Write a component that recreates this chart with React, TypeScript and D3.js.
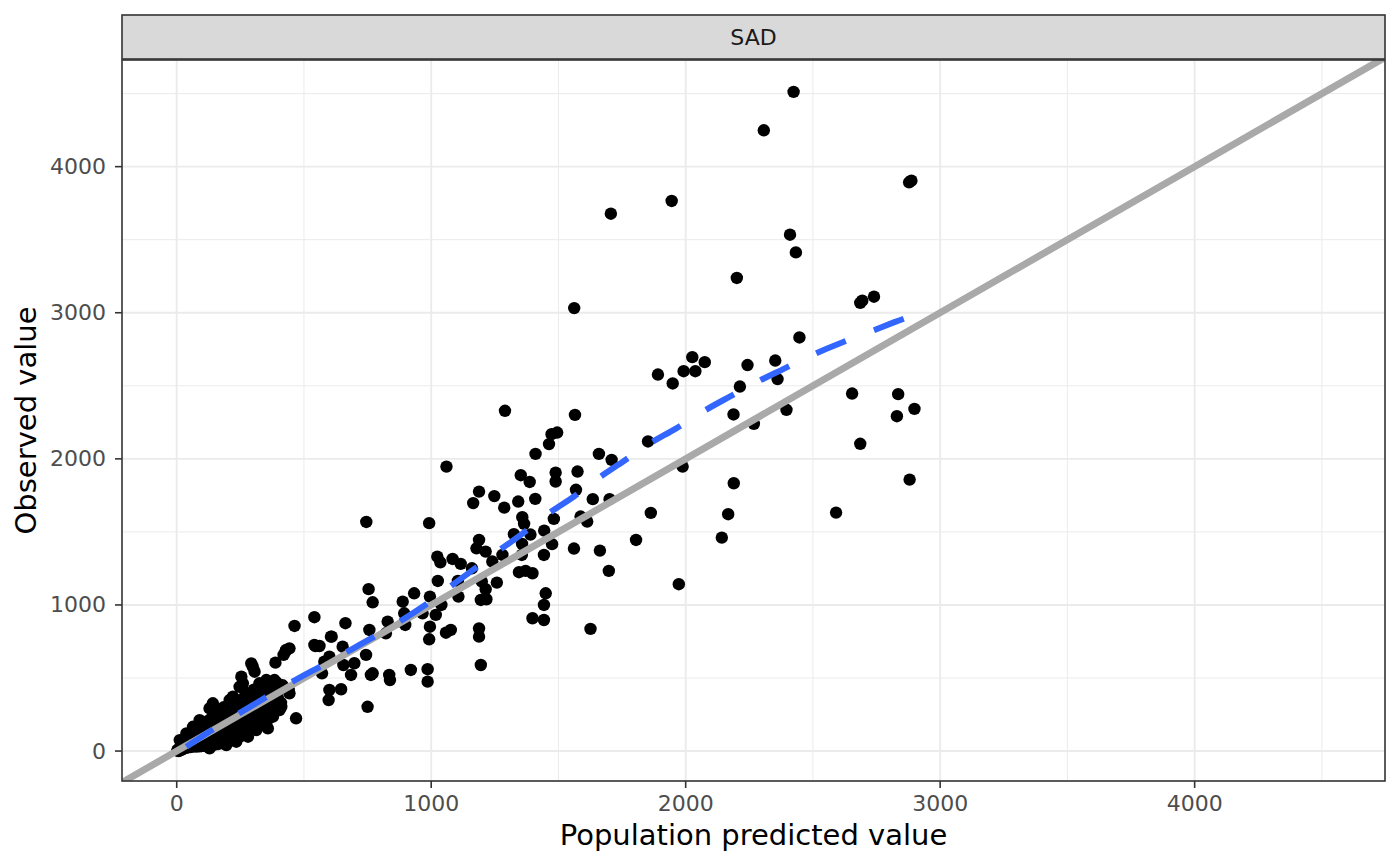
import React from "react";
import * as d3 from "d3";

// observed vs population predicted, one facet "SAD"
const stripLabel = "SAD";
const xTitle = "Population predicted value";
const yTitle = "Observed value";

const majorTicks = [0, 1000, 2000, 3000, 4000];
const minorTicks = [500, 1500, 2500, 3500, 4500];

// scattered points: [predicted, observed]
const outerPoints: [number, number][] = [
  [2424, 4512], [2307, 4249], [1945, 3765], [1706, 3678], [2878, 3893], [2887, 3904],
  [2410, 3534], [2433, 3413], [2201, 3238], [1562, 3032], [2686, 3068], [2694, 3083],
  [2740, 3110], [2447, 2831], [2026, 2696], [2075, 2662], [1992, 2600], [2038, 2600],
  [1891, 2577], [1949, 2516], [2243, 2642], [2352, 2673], [2361, 2546], [2213, 2495],
  [2188, 2304], [2396, 2336], [2268, 2240], [2654, 2447], [2835, 2443], [2899, 2342],
  [2830, 2292], [2686, 2103], [1852, 2119], [1659, 2034], [1709, 1993], [1988, 1947],
  [2189, 1833], [2880, 1858], [1863, 1630], [2167, 1621], [2591, 1632], [1701, 1724],
];

const midPoints: [number, number][] = [
  [1290, 2329], [1565, 2301], [1473, 2169], [1495, 2180], [1463, 2101], [1410, 2034],
  [1352, 1888], [1387, 1842], [1489, 1906], [1489, 1845], [1575, 1913], [1569, 1788],
  [1248, 1745], [1409, 1726], [1342, 1708], [1287, 1666], [1188, 1776], [1635, 1724],
  [1482, 1589], [1358, 1601], [1365, 1555], [1587, 1605], [1613, 1571], [1390, 1482],
  [1444, 1509], [1325, 1484], [1475, 1416], [1357, 1418], [1188, 1445], [1214, 1365],
  [1561, 1386], [1663, 1372], [1805, 1445], [2142, 1461], [1443, 1342], [1356, 1342],
  [1240, 1297], [1345, 1224], [1371, 1233], [1398, 1217], [1258, 1153], [1214, 1108],
  [1217, 1039], [1195, 1034], [1698, 1233], [1973, 1142], [1450, 1080], [1443, 1000],
  [1398, 909], [1443, 897], [1626, 836], [1188, 840], [1188, 783], [1195, 589],
  [1060, 1947], [1165, 1697], [992, 1560], [1178, 1388], [1280, 1342], [1024, 1331],
  [1036, 1292], [1084, 1315], [1116, 1281], [1160, 1251], [1026, 1164], [1105, 1164],
  [1199, 1160], [933, 1080], [888, 1023], [995, 1057], [1040, 1000], [1107, 1057],
  [1018, 932], [894, 875], [995, 851], [1058, 810], [1077, 829], [745, 1568],
];

const lowPoints: [number, number][] = [
  [754, 1108], [770, 1018], [966, 943], [894, 943], [898, 863], [829, 886], [822, 806],
  [757, 829], [663, 875], [609, 783], [652, 714], [744, 658], [698, 601], [655, 589],
  [600, 646], [561, 719], [571, 532], [685, 521], [763, 521], [770, 532], [835, 521],
  [838, 486], [920, 555], [986, 560], [986, 475], [600, 418], [597, 349], [646, 423],
  [750, 303], [992, 765], [541, 916], [463, 856], [388, 605], [427, 680], [443, 703],
  [299, 577], [306, 543], [254, 509], [260, 464], [469, 224], [358, 155], [411, 303],
  [545, 719], [606, 783], [440, 418], [443, 395], [430, 692], [420, 658], [541, 726],
  [580, 612], [293, 600], [247, 440], [352, 486], [365, 452], [384, 486], [325, 464],
  [391, 327], [142, 327], [156, 281], [129, 292], [208, 349], [221, 372], [90, 212],
  [64, 166], [38, 121], [12, 75],
];

// the dense blob near the origin
const clusterPoints: [number, number][] = [
  [2, 3], [5, 10], [8, 0], [10, 18], [14, 6], [18, 24], [20, 10], [24, 14], [26, 34],
  [30, 20], [33, 46], [36, 22], [40, 30], [42, 60], [45, 26], [48, 42], [52, 75],
  [55, 28], [58, 52], [62, 95], [65, 30], [68, 38], [70, 62], [74, 115], [78, 30],
  [80, 48], [84, 82], [86, 140], [90, 32], [92, 60], [95, 105], [98, 34], [102, 40],
  [105, 72], [108, 130], [110, 180], [114, 36], [116, 58], [120, 95], [124, 150],
  [126, 210], [130, 38], [133, 70], [136, 115], [140, 170], [142, 240], [146, 42],
  [148, 55], [152, 90], [155, 135], [158, 200], [162, 48], [165, 70], [168, 105],
  [170, 250], [172, 150], [176, 55], [180, 85], [182, 190], [185, 300], [188, 125],
  [192, 62], [195, 80], [198, 160], [200, 230], [203, 100], [206, 280], [210, 70],
  [213, 140], [216, 200], [218, 85], [222, 320], [225, 110], [228, 170], [232, 250],
  [235, 80], [238, 95], [240, 300], [243, 140], [246, 200], [250, 100], [252, 350],
  [255, 125], [258, 240], [262, 170], [265, 290], [268, 120], [270, 400], [273, 210],
  [276, 145], [278, 330], [282, 250], [285, 150], [288, 180], [290, 380], [294, 300],
  [297, 165], [300, 220], [303, 420], [306, 270], [310, 190], [314, 340], [318, 240],
  [322, 400], [326, 180], [330, 290], [334, 450], [338, 215], [342, 360], [346, 260],
  [350, 420], [355, 310], [360, 225], [364, 380], [368, 460], [372, 280], [378, 340],
  [382, 420], [388, 300], [392, 470], [398, 360], [404, 420], [410, 330], [416, 450],
  [129, 18], [195, 41], [234, 64], [280, 98], [313, 144], [352, 190], [378, 235], [404, 281],
];

// blue dashed smoother
const smoothX = [38, 149, 247, 353, 451, 561, 667, 776, 875, 980, 1071, 1176, 1267, 1365, 1456, 1567, 1652, 1757, 1855, 1962, 2064, 2171, 2280, 2384, 2495, 2600, 2718, 2826, 2899];
const smoothY = [30, 158, 260, 370, 473, 575, 678, 781, 884, 1000, 1123, 1253, 1377, 1491, 1628, 1742, 1868, 1982, 2108, 2203, 2324, 2423, 2529, 2614, 2712, 2788, 2865, 2941, 2985];

const identityLine = [-1000, 6000];

const W = 1400;
const H = 866;
const panel = { left: 122, right: 1385, top: 60, bottom: 781 };
const strip = { top: 15, bottom: 59 };
const FONT = "DejaVu Sans";

export default function App() {
  const x = d3.scaleLinear().domain([-215, 4748]).range([panel.left, panel.right]);
  const y = d3.scaleLinear().domain([-205, 4730]).range([panel.bottom, panel.top]);

  const allPoints = [...clusterPoints, ...lowPoints, ...midPoints, ...outerPoints];

  const smoothData = smoothX.map((v, i) => [v, smoothY[i]] as [number, number]);
  const smoothPath = d3
    .line<[number, number]>()
    .x((d) => x(d[0]))
    .y((d) => y(d[1]))
    .curve(d3.curveBasis)(smoothData);

  const cx = (panel.left + panel.right) / 2;
  const cy = (panel.top + panel.bottom) / 2;

  return (
    <svg width={W} height={H} style={{ position: "absolute", left: 0, top: 0, background: "#fff" }} fontFamily={FONT}>
      <defs>
        <clipPath id="panel-clip">
          <rect x={panel.left} y={panel.top} width={panel.right - panel.left} height={panel.bottom - panel.top} />
        </clipPath>
      </defs>
      <rect x={0} y={0} width={W} height={H} fill="#fff" />

      {/* grid */}
      <g clipPath="url(#panel-clip)">
        {minorTicks.map((t) => (
          <g key={"mn" + t}>
            <line x1={x(t)} x2={x(t)} y1={panel.top} y2={panel.bottom} stroke="#EBEBEB" strokeWidth={1} />
            <line x1={panel.left} x2={panel.right} y1={y(t)} y2={y(t)} stroke="#EBEBEB" strokeWidth={1} />
          </g>
        ))}
        {majorTicks.map((t) => (
          <g key={"mj" + t}>
            <line x1={x(t)} x2={x(t)} y1={panel.top} y2={panel.bottom} stroke="#EBEBEB" strokeWidth={1.9} />
            <line x1={panel.left} x2={panel.right} y1={y(t)} y2={y(t)} stroke="#EBEBEB" strokeWidth={1.9} />
          </g>
        ))}

        {/* points */}
        {allPoints.map((p, i) => (
          <circle key={i} cx={x(p[0])} cy={y(p[1])} r={6.2} fill="#000" />
        ))}

        {/* identity line */}
        <line
          x1={x(identityLine[0])}
          y1={y(identityLine[0])}
          x2={x(identityLine[1])}
          y2={y(identityLine[1])}
          stroke="#A9A9A9"
          strokeWidth={7}
        />

        {/* smoother */}
        <path d={smoothPath ?? ""} fill="none" stroke="#3366FF" strokeWidth={6} strokeDasharray="32,30" />
      </g>

      {/* panel border */}
      <rect
        x={panel.left}
        y={panel.top}
        width={panel.right - panel.left}
        height={panel.bottom - panel.top}
        fill="none"
        stroke="#333333"
        strokeWidth={1.6}
      />

      {/* strip */}
      <rect
        x={panel.left}
        y={strip.top}
        width={panel.right - panel.left}
        height={strip.bottom - strip.top}
        fill="#D9D9D9"
        stroke="#333333"
        strokeWidth={1.6}
      />
      <text x={cx} y={(strip.top + strip.bottom) / 2} textAnchor="middle" dominantBaseline="central" fontSize={22} fill="#1A1A1A">
        {stripLabel}
      </text>

      {/* x axis */}
      {majorTicks.map((t) => (
        <g key={"xt" + t}>
          <line x1={x(t)} x2={x(t)} y1={panel.bottom} y2={panel.bottom + 7} stroke="#333333" strokeWidth={1.6} />
          <text x={x(t)} y={811} textAnchor="middle" fontSize={22} fill="#4D4D4D">
            {t}
          </text>
        </g>
      ))}
      {/* y axis */}
      {majorTicks.map((t) => (
        <g key={"yt" + t}>
          <line x1={panel.left - 7} x2={panel.left} y1={y(t)} y2={y(t)} stroke="#333333" strokeWidth={1.6} />
          <text x={106} y={y(t)} textAnchor="end" dominantBaseline="central" fontSize={22} fill="#4D4D4D">
            {t}
          </text>
        </g>
      ))}

      <text x={cx} y={845} textAnchor="middle" fontSize={29} fill="#000">
        {xTitle}
      </text>
      <text transform={`translate(36, ${cy}) rotate(-90)`} textAnchor="middle" fontSize={29} fill="#000">
        {yTitle}
      </text>
    </svg>
  );
}
